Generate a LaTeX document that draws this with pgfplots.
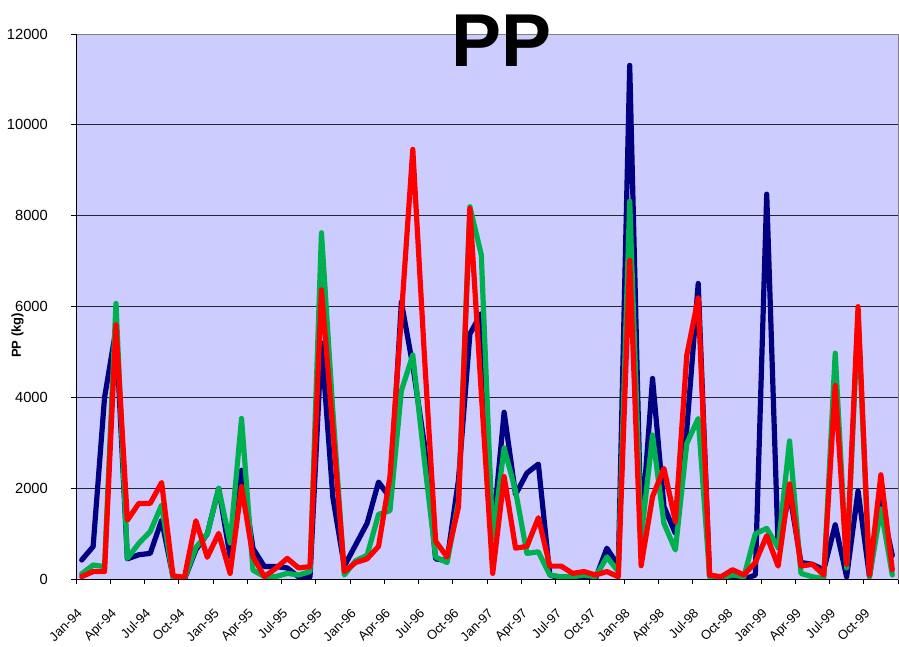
\documentclass[border=0pt]{standalone}
\usepackage{fontspec}
\setmainfont{Liberation Sans}
\usepackage{pgfplots}
\usepackage{pgfplotstable}
\pgfplotsset{compat=1.18}
\definecolor{bgc}{HTML}{CCCCFF}
\definecolor{navyc}{HTML}{000080}
\definecolor{greenc}{HTML}{00B050}
\definecolor{redc}{HTML}{FF0000}
\pgfplotstableread{
x blue green red
0.5 425 120 60
1.5 720 315 170
2.5 4000 280 170
3.5 5500 6070 5600
4.5 450 460 1300
5.5 540 790 1670
6.5 570 1050 1670
7.5 1300 1635 2130
8.5 60 20 75
9.5 0 20 45
10.5 650 700 1290
11.5 1000 1000 485
12.5 2000 2000 1010
13.5 500 800 130
14.5 2400 3540 2040
15.5 680 200 500
16.5 280 60 60
17.5 280 60 240
18.5 250 130 460
19.5 55 95 250
20.5 55 170 280
21.5 5200 7625 6370
22.5 1800 3700 3300
23.5 290 95 170
24.5 760 410 370
25.5 1235 530 450
26.5 2140 1430 725
27.5 1800 1510 2260
28.5 6100 4150 5800
29.5 4700 4935 9460
30.5 3000 2650 5000
31.5 450 490 840
32.5 410 370 490
33.5 2180 1710 1590
34.5 5400 8200 8160
35.5 5850 7140 4100
36.5 1000 900 130
37.5 3675 2890 2260
38.5 1865 1945 685
39.5 2340 570 725
40.5 2535 605 1355
41.5 95 95 290
42.5 15 55 290
43.5 15 55 130
44.5 15 95 170
45.5 15 55 95
46.5 685 490 170
47.5 290 170 55
48.5 11310 8320 7020
49.5 1000 900 300
50.5 4420 3175 1820
51.5 1600 1230 2440
52.5 1010 645 1270
53.5 3300 2990 4935
54.5 6510 3540 6190
55.5 55 55 95
56.5 0 30 55
57.5 15 95 210
58.5 0 55 95
59.5 95 1000 370
60.5 8475 1120 960
61.5 700 700 290
62.5 1900 3045 2100
63.5 370 130 290
64.5 330 55 330
65.5 210 15 95
66.5 1200 4975 4265
67.5 55 250 330
68.5 1945 5800 6000
69.5 60 60 95
70.5 1700 1550 2300
71.5 525 95 210
}\datatable
\begin{document}
\begin{tikzpicture}
\path[use as bounding box] (0,0) rectangle (899pt,646pt);
\begin{axis}[
  name=ax,
  at={(76pt,66.7pt)}, anchor=south west,
  scale only axis, width=822pt, height=545.3pt,
  xmin=0, xmax=72, ymin=0, ymax=12000,
  axis background/.style={fill=bgc},
  axis line style={draw=gray, line width=0.8pt},
  xtick={0,3,...,72}, xticklabels={},
  extra x ticks={0.5,3.5,...,69.5},
  extra x tick labels={Jan-94,Apr-94,Jul-94,Oct-94,Jan-95,Apr-95,Jul-95,Oct-95,Jan-96,Apr-96,Jul-96,Oct-96,Jan-97,Apr-97,Jul-97,Oct-97,Jan-98,Apr-98,Jul-98,Oct-98,Jan-99,Apr-99,Jul-99,Oct-99},
  extra x tick style={major tick length=0pt, grid=none,
    xticklabel style={font=\fontsize{13}{15}\selectfont, inner sep=0pt, xshift=1.2pt, yshift=-34.9pt, rotate=45, anchor=base east}},
  ytick={0,2000,...,12000},
  scaled y ticks=false,
  yticklabel style={font=\fontsize{14.7}{17}\selectfont, inner sep=0pt, anchor=east, xshift=-23pt},
  /pgf/number format/assume math mode=true,
  /pgf/number format/1000 sep={},
  /pgf/number format/fixed,
  ymajorgrids, major grid style={black!85, line width=0.8pt},
  tick pos=left, tick align=outside, major tick length=5pt,
  tick style={black, line width=0.8pt},
  title={PP},
  title style={font=\fontsize{75}{80}\selectfont\bfseries, at={(axis description cs:0.518,0.9285)}, anchor=base, inner sep=0pt},
  ylabel={PP (kg)},
  ylabel style={font=\fontsize{13}{15}\selectfont\bfseries, at={(axis description cs:-0.0712,0.447)}, anchor=center},
  every axis plot/.append style={line width=5.2pt, line join=round, line cap=round, mark=none},
]
\addplot[navyc] table[x=x, y=blue] {\datatable};
\addplot[greenc] table[x=x, y=green] {\datatable};
\addplot[redc] table[x=x, y=red] {\datatable};
\end{axis}
\draw[black, line width=1pt] (ax.north west) -- (ax.south west) -- (ax.south east);
\end{tikzpicture}
\end{document}
